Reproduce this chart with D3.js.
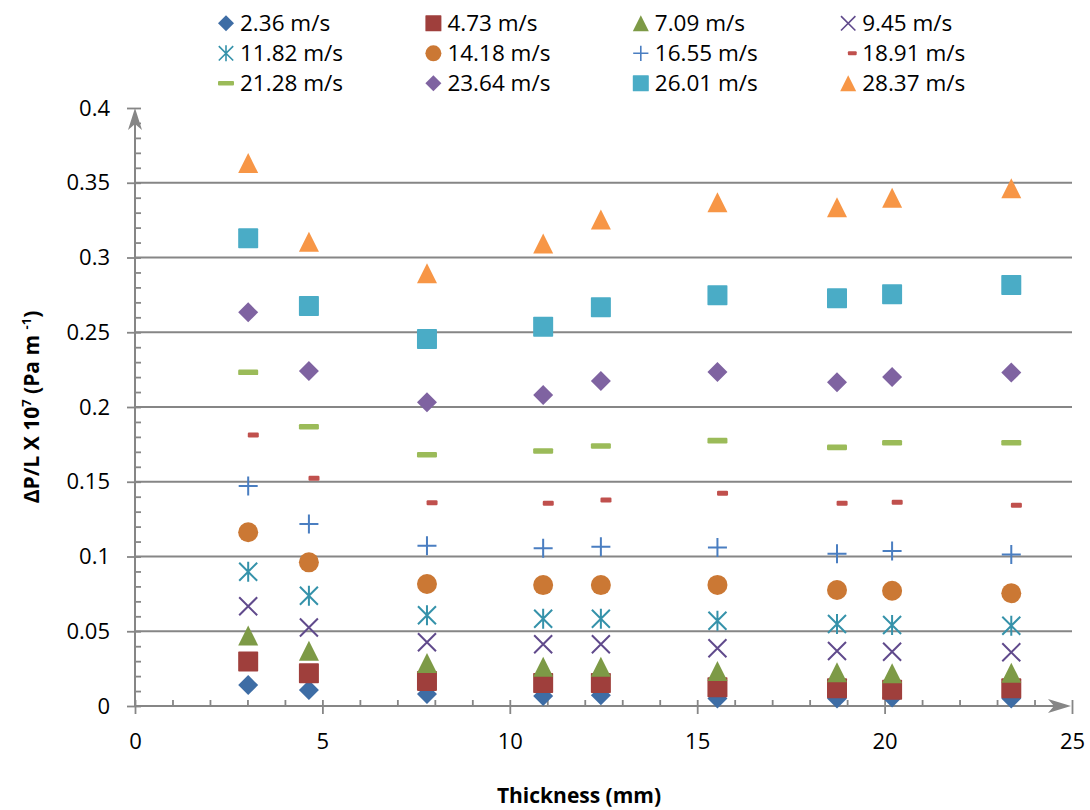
<!DOCTYPE html>
<html><head><meta charset="utf-8">
<script src="https://cdn.jsdelivr.net/npm/d3@7"></script>
<style>
body{margin:0;background:#fff;}
svg{display:block;font-family:'Open Sans',sans-serif;}
</style>
</head><body>
<svg id="chart" width="1090" height="810"></svg>
<script>
// ---- data ----
const thickness = [3.02, 4.64, 7.79, 10.89, 12.43, 15.54, 18.73, 20.20, 23.38];
const speedLabels = ["2.36 m/s","4.73 m/s","7.09 m/s","9.45 m/s","11.82 m/s","14.18 m/s",
                     "16.55 m/s","18.91 m/s","21.28 m/s","23.64 m/s","26.01 m/s","28.37 m/s"];
const v2_36  = [0.0140, 0.0107, 0.0080, 0.0067, 0.0072, 0.0051, 0.0051, 0.0057, 0.0051];
const v4_73  = [0.0297, 0.0219, 0.0168, 0.0154, 0.0154, 0.0125, 0.0118, 0.0109, 0.0118];
const v7_09  = [0.0472, 0.0370, 0.0288, 0.0263, 0.0263, 0.0234, 0.0225, 0.0219, 0.0223];
const v9_45  = [0.0667, 0.0525, 0.0426, 0.0413, 0.0413, 0.0386, 0.0368, 0.0363, 0.0359];
const v11_82 = [0.0898, 0.0738, 0.0607, 0.0584, 0.0584, 0.0570, 0.0548, 0.0542, 0.0537];
const v14_18 = [0.1162, 0.0961, 0.0816, 0.0809, 0.0809, 0.0810, 0.0776, 0.0771, 0.0754];
const v16_55 = [0.1472, 0.1217, 0.1072, 0.1055, 0.1066, 0.1061, 0.1019, 0.1037, 0.1014];
const v18_91 = [0.1813, 0.1523, 0.1360, 0.1356, 0.1378, 0.1423, 0.1356, 0.1363, 0.1343];
const v21_28 = [0.2232, 0.1868, 0.1681, 0.1706, 0.1739, 0.1775, 0.1730, 0.1761, 0.1761];
const v23_64 = [0.2633, 0.2241, 0.2031, 0.2080, 0.2174, 0.2234, 0.2165, 0.2201, 0.2230];
const v26_01 = [0.3128, 0.2676, 0.2455, 0.2537, 0.2667, 0.2747, 0.2727, 0.2754, 0.2816];
const v28_37 = [0.3632, 0.3106, 0.2894, 0.3094, 0.3255, 0.3369, 0.3336, 0.3400, 0.3463];
const xTicks = [0, 5, 10, 15, 20, 25];
const yTicks = [0, 0.05, 0.1, 0.15, 0.2, 0.25, 0.3, 0.35, 0.4];
const yTickLabels = ["0","0.05","0.1","0.15","0.2","0.25","0.3","0.35","0.4"];

// ---- styles ----
const seriesValues = [v2_36, v4_73, v7_09, v9_45, v11_82, v14_18, v16_55, v18_91, v21_28, v23_64, v26_01, v28_37];
const shapes = ["diamond","square","triangle","x","asterisk","circle","plus","shortdash","dash","diamond","square","triangle"];
const colors = ["#3E6DA5","#9F3F3C","#7D9A46","#604A8C","#3592AA","#CB7834",
                "#4A7EC1","#C0504D","#9BBB59","#7F63A1","#4AACC6","#F79646"];
const series = speedLabels.map((name, i) => ({
  name, shape: shapes[i], color: colors[i],
  points: thickness.map((t, j) => ({x: t, y: seriesValues[i][j]}))
}));

const svg = d3.select("#chart");
const axisColor = "#868686";
const x = d3.scaleLinear().domain([0, 25]).range([135, 1072]);
const y = d3.scaleLinear().domain([0, 0.4]).range([706, 108]);

// gridlines
svg.append("g").selectAll("line")
  .data(yTicks.filter(v => v > 0 && v < 0.4))
  .join("line")
  .attr("x1", x(0)).attr("x2", x(25))
  .attr("y1", d => y(d)).attr("y2", d => y(d))
  .attr("stroke", axisColor).attr("stroke-width", 2);

// y axis (major, labels)
const yAxis = svg.append("g").attr("transform", `translate(${x(0)},0)`)
  .call(d3.axisLeft(y).tickValues(yTicks).tickFormat((d, i) => yTickLabels[i])
        .tickSize(8).tickSizeOuter(0).tickPadding(17));
// y minor ticks
const yMinor = svg.append("g").attr("transform", `translate(${x(0)},0)`)
  .call(d3.axisRight(y).tickValues(d3.range(0, 41).map(k => k / 100)).tickFormat("")
        .tickSize(6).tickSizeOuter(0));
// x axis (major, labels)
const xAxis = svg.append("g").attr("transform", `translate(0,${y(0)})`)
  .call(d3.axisBottom(x).tickValues(xTicks).tickFormat(d3.format("d"))
        .tickSize(8).tickSizeOuter(0).tickPadding(19));
// x minor ticks
const xMinor = svg.append("g").attr("transform", `translate(0,${y(0)})`)
  .call(d3.axisTop(x).tickValues(d3.range(0, 26)).tickFormat("")
        .tickSize(6).tickSizeOuter(0));

[yAxis, yMinor, xAxis, xMinor].forEach(g => {
  g.select(".domain").remove();
  g.selectAll(".tick line").attr("stroke", axisColor).attr("stroke-width", 1.8);
  g.selectAll(".tick text").attr("font-family", "'Open Sans',sans-serif")
    .attr("font-size", 22).attr("fill", "#000");
});

// axis lines with arrows
svg.append("line").attr("x1", x(0)).attr("x2", x(0)).attr("y1", y(0)).attr("y2", y(0.4) + 12)
  .attr("stroke", axisColor).attr("stroke-width", 2);
svg.append("line").attr("x1", x(0)).attr("x2", x(25) - 14).attr("y1", y(0)).attr("y2", y(0))
  .attr("stroke", axisColor).attr("stroke-width", 2);
// up arrow
const ax0 = x(0), ay0 = y(0.4);
svg.append("path")
  .attr("d", `M${ax0},${ay0} L${ax0 + 7},${ay0 + 22} L${ax0},${ay0 + 16} L${ax0 - 7},${ay0 + 22} Z`)
  .attr("fill", axisColor);
// right arrow
const bx0 = x(25) - 1, by0 = y(0);
svg.append("path")
  .attr("d", `M${bx0},${by0} L${bx0 - 23},${by0 - 7} L${bx0 - 17},${by0} L${bx0 - 23},${by0 + 7} Z`)
  .attr("fill", axisColor);

// marker drawing
function drawMarker(g, shape, color, s) {
  const h = s / 2;
  switch (shape) {
    case "diamond":
      g.append("path").attr("d", `M0,${-h} L${h},0 L0,${h} L${-h},0 Z`).attr("fill", color);
      break;
    case "square":
      g.append("rect").attr("x", -h).attr("y", -h).attr("width", s).attr("height", s)
        .attr("rx", s * 0.04).attr("fill", color);
      break;
    case "triangle":
      g.append("path").attr("d", `M0,${-h} L${h},${h} L${-h},${h} Z`).attr("fill", color);
      break;
    case "circle":
      g.append("circle").attr("r", h).attr("fill", color);
      break;
    case "x": {
      const a = h * 0.9;
      g.append("path").attr("d", `M${-a},${-a} L${a},${a} M${a},${-a} L${-a},${a}`)
        .attr("stroke", color).attr("stroke-width", s * 0.1).attr("fill", "none");
      break;
    }
    case "asterisk": {
      const a = h * 0.9;
      g.append("path").attr("d", `M${-a},${-a} L${a},${a} M${a},${-a} L${-a},${a} M0,${-h} L0,${h}`)
        .attr("stroke", color).attr("stroke-width", s * 0.1).attr("fill", "none");
      break;
    }
    case "plus": {
      const a = h * 0.95;
      g.append("path").attr("d", `M${-a},0 L${a},0 M0,${-a} L0,${a}`)
        .attr("stroke", color).attr("stroke-width", s * 0.1).attr("fill", "none");
      break;
    }
    case "shortdash":
      g.append("rect").attr("x", s * -0.02).attr("y", -s * 0.125).attr("width", s * 0.55)
        .attr("height", s * 0.25).attr("rx", s * 0.06).attr("fill", color);
      break;
    case "dash":
      g.append("rect").attr("x", -h).attr("y", -s * 0.14).attr("width", s)
        .attr("height", s * 0.28).attr("rx", s * 0.06).attr("fill", color);
      break;
  }
}

// points
const plot = svg.append("g");
series.forEach(sr => {
  plot.append("g").selectAll("g")
    .data(sr.points)
    .join("g")
    .attr("transform", d => `translate(${x(d.x)},${y(d.y)})`)
    .each(function () { drawMarker(d3.select(this), sr.shape, sr.color, 20); });
});

// legend
const legend = svg.append("g");
series.forEach((sr, i) => {
  const col = i % 4, row = Math.floor(i / 4);
  const lx = 226 + col * 207.4, ly = 23.3 + row * 30;
  const g = legend.append("g").attr("transform", `translate(${lx},${ly})`);
  drawMarker(g, sr.shape, sr.color, 16);
  legend.append("text").attr("x", lx + 14).attr("y", ly + 8)
    .attr("font-size", 22.5).attr("fill", "#000").text(sr.name);
});

// axis titles
svg.append("text").attr("x", 579).attr("y", 803).attr("text-anchor", "middle")
  .attr("font-size", 21).attr("font-weight", "bold").attr("fill", "#000")
  .text("Thickness (mm)");

const yt = svg.append("text").attr("transform", `translate(39,${(y(0) + y(0.4)) / 2}) rotate(-90)`)
  .attr("text-anchor", "middle").attr("font-size", 21).attr("font-weight", "bold").attr("fill", "#000");
yt.append("tspan").text("ΔP/L X 10");
yt.append("tspan").attr("dy", -8).attr("font-size", 13).text("7");
yt.append("tspan").attr("dy", 8).text(" (Pa m ");
yt.append("tspan").attr("dy", -8).attr("font-size", 13).text("-1");
yt.append("tspan").attr("dy", 8).text(")");
</script>
</body></html>
